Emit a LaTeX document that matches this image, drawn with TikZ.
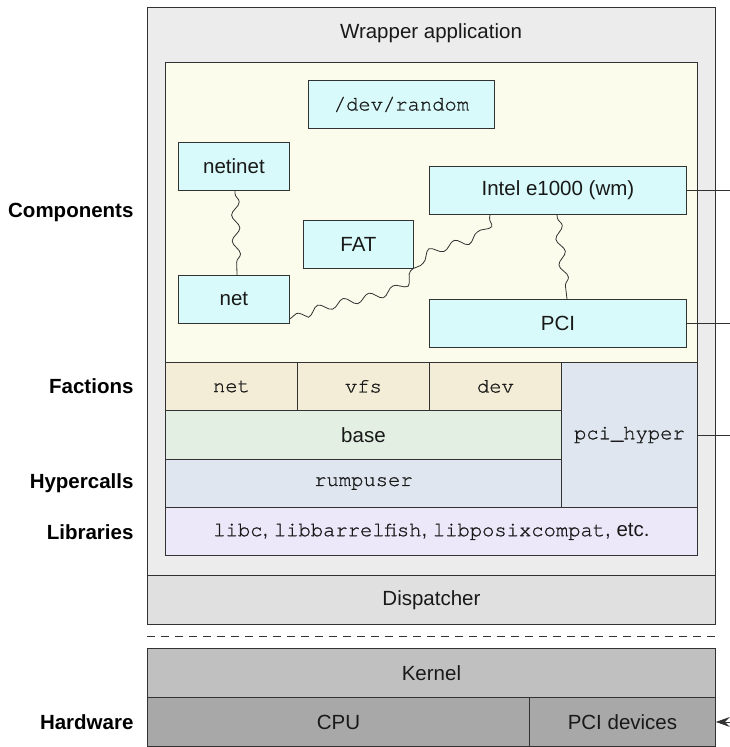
\documentclass[tikz,border=0pt]{standalone}
\usepackage{fontspec}
\setmainfont{Liberation Sans}
\setmonofont{TeX Gyre Cursor}[FakeBold=0.9]
\usetikzlibrary{decorations.pathmorphing,arrows.meta}

\definecolor{wrapgray}{RGB}{236,236,236}
\definecolor{compyellow}{RGB}{252,252,236}
\definecolor{compcyan}{RGB}{217,250,250}
\definecolor{factbeige}{RGB}{243,236,214}
\definecolor{basegreen}{RGB}{226,239,226}
\definecolor{hyperblue}{RGB}{223,230,239}
\definecolor{liblav}{RGB}{236,232,250}
\definecolor{dispgray}{RGB}{224,224,224}
\definecolor{kerngray}{RGB}{192,192,192}
\definecolor{hwgray}{RGB}{168,168,168}
\definecolor{edge}{RGB}{50,50,50}

\begin{document}
\begin{tikzpicture}[x=1pt,y=-1pt,
  every node/.style={font=\fontsize{20.5}{24}\selectfont, text=black!90},
  blk/.style={draw=edge, line width=0.9pt, inner sep=0pt, anchor=north west},
  comp/.style={blk, fill=compcyan, minimum height=48pt},
  side/.style={font=\fontsize{20.5}{24}\selectfont\bfseries, anchor=east, text=black},
  conn/.style={draw=edge, line width=0.8pt},
  wavy/.style={conn, line width=0.8pt, decorate,
    decoration={snake, segment length=26pt, amplitude=4pt, pre length=3pt, post length=3pt}},
]
\useasboundingbox (0,0) rectangle (730,747);
\coordinate (rim) at (730,0);

% wrapper application and dispatcher
\node[blk, fill=wrapgray, minimum width=568pt, minimum height=568pt] (wrapper) at (147,7) {};
\node (wraplabel) at (431,33) {Wrapper application};
\node[blk, fill=dispgray, minimum width=568pt, minimum height=49pt] (dispatcher) at (147,575) {Dispatcher};

% components area
\node[blk, fill=compyellow, minimum width=532pt, minimum height=300pt] (comparea) at (165,62) {};
\node[comp, minimum width=186pt] (devrandom) at (308,80) {\ttfamily /dev/random};
\node[comp, minimum width=111pt] (netinet) at (178,142) {netinet};
\node[comp, minimum width=257pt] (intel) at (429,166) {Intel e1000 (wm)};
\node[comp, minimum width=110pt] (fat) at (303,220) {FAT};
\node[comp, minimum width=111pt] (netc) at (178,275) {net};
\node[comp, minimum width=257pt] (pci) at (429,299) {PCI};

% factions, base, hypercalls, libraries
\node[blk, fill=factbeige, minimum width=132pt, minimum height=48pt] (fnet) at (165,362) {\ttfamily net};
\node[blk, fill=factbeige, minimum width=132pt, minimum height=48pt] (fvfs) at (297,362) {\ttfamily vfs};
\node[blk, fill=factbeige, minimum width=132pt, minimum height=48pt] (fdev) at (429,362) {\ttfamily dev};
\node[blk, fill=hyperblue, minimum width=136pt, minimum height=145pt] (pcihyper) at (561,362) {\ttfamily pci\_hyper};
\node[blk, fill=basegreen, minimum width=396pt, minimum height=49pt] (base) at (165,410) {base};
\node[blk, fill=hyperblue, minimum width=396pt, minimum height=48pt] (rumpuser) at (165,459) {\ttfamily rumpuser};
\node[blk, fill=liblav, minimum width=532pt, minimum height=48pt] (libs) at (165,507)
  {{\ttfamily libc}, {\ttfamily libbarrelfish}, {\ttfamily libposixcompat}, etc.};

% boundary between user space and kernel
\coordinate (sepL) at (147,636);
\coordinate (sepR) at (715,636);
\draw[conn, dash pattern=on 8pt off 6pt] (sepL) -- (sepR);

% kernel and hardware
\node[blk, fill=kerngray, minimum width=568pt, minimum height=49pt] (kernel) at (147,648) {Kernel};
\node[blk, fill=hwgray, minimum width=382pt, minimum height=49pt] (cpu) at (147,697) {CPU};
\node[blk, fill=hwgray, minimum width=186pt, minimum height=49pt] (pcidev) at (529,697) {PCI devices};

% dependencies between components
\draw[wavy] ([xshift=57pt]netinet.south west) -- ([xshift=59pt]netc.north west);
\draw[wavy] ([xshift=128pt]intel.south west) -- ([xshift=138pt]pci.north west);
\draw[wavy] ([xshift=61pt]intel.south west)
  .. controls (488,245) and (430,232) .. (418,262)
  .. controls (405,300) and (330,285) .. ([yshift=5pt]netc.south east);

% lines leaving on the right
\draw[conn] (intel.east) -- (intel.east -| rim);
\draw[conn] (pci.east) -- (pci.east -| rim);
\draw[conn] (pcihyper.east) -- (pcihyper.east -| rim);
\draw[conn, -{Stealth[length=14pt,width=10pt,inset=5pt]}] (pcidev.east -| rim) -- (pcidev.east);

% layer labels
\node[side] (lcomp) at (137,212) {Components};
\node[side] (lfact) at (137,386) {Factions};
\node[side] (lhyper) at (137,483) {Hypercalls};
\node[side] (llib) at (137,532) {Libraries};
\node[side] (lhw) at (137,722) {Hardware};
\end{tikzpicture}
\end{document}
